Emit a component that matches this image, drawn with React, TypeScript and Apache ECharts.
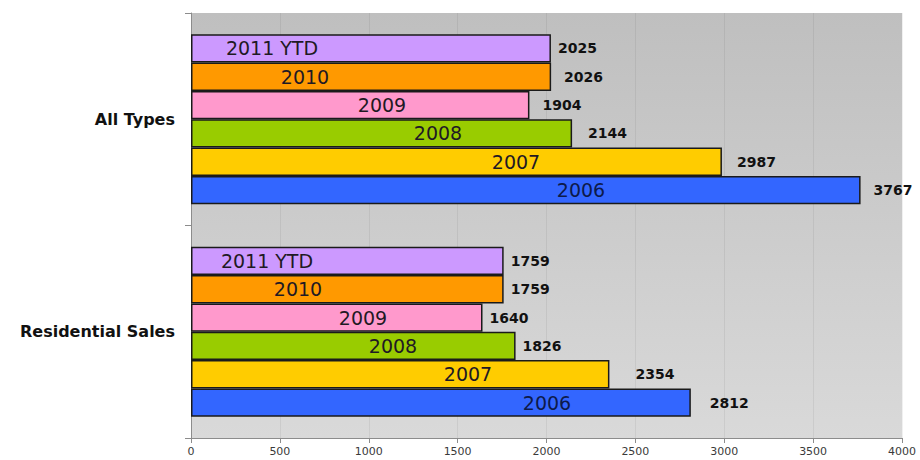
import React, { useEffect, useRef } from "react";
import * as echarts from "echarts";

const categories = ["All Types", "Residential Sales"];
const seriesNames = ["2011 YTD", "2010", "2009", "2008", "2007", "2006"];
// values per series: [All Types, Residential Sales]
const values2011YTD = [2025, 1759];
const values2010 = [2026, 1759];
const values2009 = [1904, 1640];
const values2008 = [2144, 1826];
const values2007 = [2987, 2354];
const values2006 = [3767, 2812];
const seriesValues = [values2011YTD, values2010, values2009, values2008, values2007, values2006];
const xMin = 0;
const xMax = 4000;
const xInterval = 500;

const seriesColors = ["#cc99ff", "#ff9900", "#ff99cc", "#99cc00", "#ffcc00", "#3366ff"];
// layout tweaks: x of series-name label inside bar (px from bar start), gap of value label
const nameLabelX = [[81, 76], [114, 107], [191, 172], [247, 202], [325, 277], [390, 356]];
const valueGap = [[7, 7], [13, 7], [13, 7], [16, 7], [15, 26], [13, 19]];

export default function App() {
  const ref = useRef<HTMLDivElement>(null);
  useEffect(() => {
    if (!ref.current) return;
    const chart = echarts.init(ref.current, undefined, { renderer: "svg" });
    const barSeries = seriesNames.map((name, si) => ({
      name,
      type: "bar",
      yAxisIndex: 0,
      barCategoryGap: "20%",
      barGap: "0%",
      itemStyle: { color: seriesColors[si], borderColor: "#1a1a1a", borderWidth: 1.5 },
      data: seriesValues[si].map((v, ci) => ({
        value: v,
        label: {
          show: true,
          position: [nameLabelX[si][ci], "50%"],
          align: "center",
          verticalAlign: "middle",
          formatter: name,
          fontFamily: "DejaVu Sans",
          fontSize: 19,
          color: si === 5 ? "#0d1a4a" : "#1f1a24",
        },
      })),
    }));
    const valueSeries = seriesNames.map((name, si) => ({
      name: name + " value",
      type: "bar",
      yAxisIndex: 1,
      silent: true,
      barCategoryGap: "20%",
      barGap: "0%",
      itemStyle: { color: "rgba(0,0,0,0)" },
      data: seriesValues[si].map((v, ci) => ({
        value: v,
        label: {
          show: true,
          position: "right",
          distance: valueGap[si][ci],
          formatter: "{c}",
          fontFamily: "DejaVu Sans",
          fontWeight: "bold",
          fontSize: 14,
          color: "#111111",
        },
      })),
    }));
    chart.setOption({
      animation: false,
      backgroundColor: "#ffffff",
      grid: {
        left: 191,
        right: 18,
        top: 13,
        bottom: 22,
        show: true,
        borderWidth: 0,
        backgroundColor: new echarts.graphic.LinearGradient(0, 0, 0, 1, [
          { offset: 0, color: "#bfbfbf" },
          { offset: 1, color: "#d9d9d9" },
        ]),
      },
      xAxis: {
        type: "value",
        min: xMin,
        max: xMax,
        interval: xInterval,
        axisLine: { show: true, lineStyle: { color: "#8c8c8c", width: 1 } },
        axisTick: { show: true, length: 5, lineStyle: { color: "#8c8c8c" } },
        splitLine: { show: true, lineStyle: { color: "rgba(0,0,0,0.06)" } },
        axisLabel: {
          fontFamily: "DejaVu Sans",
          fontSize: 11,
          color: "#3a3a3a",
          margin: 8,
          formatter: (v: number) => String(v),
        },
      },
      yAxis: [
        {
          type: "category",
          data: categories,
          inverse: true,
          axisLine: { show: true, lineStyle: { color: "#8c8c8c" } },
          axisTick: { show: true, length: 6, lineStyle: { color: "#8c8c8c" } },
          axisLabel: {
            fontFamily: "DejaVu Sans",
            fontWeight: "bold",
            fontSize: 16,
            color: "#111111",
            margin: 16,
          },
        },
        {
          type: "category",
          data: categories,
          inverse: true,
          show: false,
          position: "left",
        },
      ],
      series: [...barSeries, ...valueSeries],
    });
    return () => chart.dispose();
  }, []);
  return (
    <div
      ref={ref}
      style={{ position: "fixed", left: 0, top: 0, width: 920, height: 460, background: "#fff" }}
    />
  );
}
